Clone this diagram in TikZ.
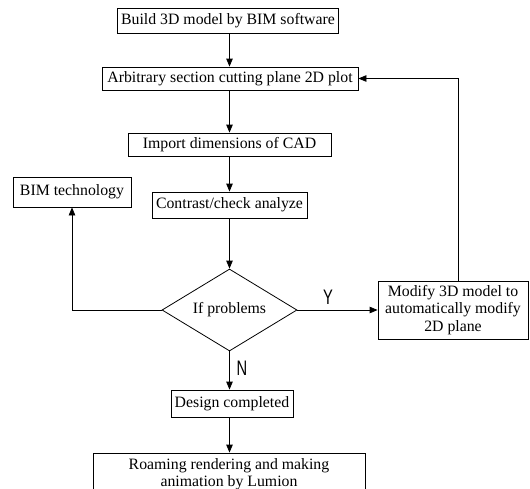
\documentclass[tikz,border=0pt]{standalone}
\usepackage{fontspec}
\usepackage{graphicx}
\setmainfont{Liberation Serif}
\newfontfamily\ynfont{Liberation Sans}
\usetikzlibrary{shapes.geometric,arrows.meta}
\begin{document}
\begin{tikzpicture}[x=1pt,y=-1pt,
  box/.style={draw,line width=0.8pt,inner sep=0pt,font=\fontsize{15.8}{17.5}\selectfont,align=center},
  arr/.style={draw,line width=0.8pt,-{Triangle[length=8pt,width=6.5pt]}},
  lab/.style={font=\fontsize{21}{21}\ynfont,inner sep=0pt}]
\useasboundingbox (0,0) rectangle (530,488);
\node[box,minimum width=221pt,minimum height=25pt] (b1) at (228,20.5) {Build 3D model by BIM software};
\node[box,minimum width=256pt,minimum height=23pt] (b2) at (230,78.5) {Arbitrary section cutting plane 2D plot};
\node[box,minimum width=203pt,minimum height=23pt] (b3) at (229.5,144.5) {Import dimensions of CAD};
\node[box,minimum width=155pt,minimum height=26pt] (b4) at (229.5,205) {Contrast/check analyze};
\node[draw,line width=0.8pt,diamond,aspect=1.65,minimum width=135pt,minimum height=82pt,inner sep=0pt,font=\fontsize{15.8}{17}\selectfont] (dia) at (229.5,310) {If problems};
\node[box,minimum width=118pt,minimum height=30pt] (bim) at (72,192) {BIM technology};
\node[box,minimum width=150pt,minimum height=58pt] (mod) at (453,310) {Modify 3D model to\\automatically modify\\2D plane};
\node[box,minimum width=122pt,minimum height=27pt] (des) at (232,403.5) {Design completed};
\node[box,minimum width=272pt,minimum height=42pt,font=\fontsize{15.8}{16.5}\selectfont] (roam) at (229,474) {Roaming rendering and making\\animation by Lumion};
\node[lab] (ylab) at (328,297) {\scalebox{0.7}[1]{Y}};
\node[lab] (nlab) at (242,368) {\scalebox{0.7}[1]{N}};
\coordinate (fbx) at (458,0);
\coordinate (mx) at (229.5,0);

\draw[arr] (b1.south -| mx) -- (b2.north -| mx);
\draw[arr] (b2.south -| mx) -- (b3.north -| mx);
\draw[arr] (b3.south -| mx) -- (b4.north -| mx);
\draw[arr] (b4.south -| mx) -- (dia.north);
\draw[arr] (dia.east) -- (mod.west);
\draw[arr] (dia.west) -| (bim.south);
\draw[arr] (mod.north -| fbx) |- (b2.east);
\draw[arr] (dia.south) -- (des.north -| mx);
\draw[arr] (des.south -| mx) -- (roam.north -| mx);
\end{tikzpicture}
\end{document}
